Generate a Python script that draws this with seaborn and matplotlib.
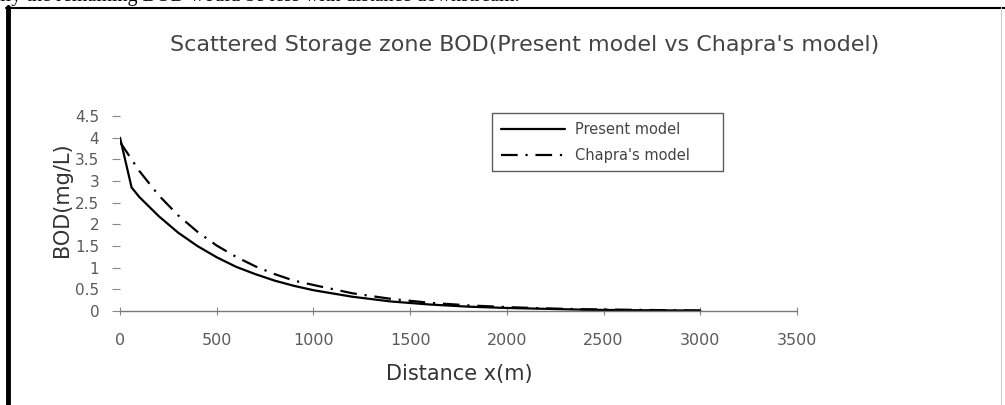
import matplotlib
matplotlib.use("Agg")
import matplotlib.pyplot as plt
from matplotlib.lines import Line2D
import seaborn as sns
import pandas as pd

title = "Scattered Storage zone BOD(Present model vs Chapra's model)"
x_label = "Distance x(m)"
y_label = "BOD(mg/L)"
series_names = ["Present model", "Chapra's model"]
page_text = "lly the remaining BOD would be less with distance downstream."

present_x = [0, 60, 100, 200, 300, 400, 500, 600, 700, 800, 900, 1000, 1200, 1400,
             1600, 1800, 2000, 2200, 2400, 2600, 2800, 3000]
present_y = [4.0, 2.85, 2.63, 2.19, 1.81, 1.50, 1.24, 1.02, 0.85, 0.70, 0.58, 0.48,
             0.33, 0.22, 0.15, 0.10, 0.07, 0.05, 0.03, 0.02, 0.015, 0.01]

chapra_x = [0, 100, 200, 300, 400, 500, 600, 700, 800, 900, 1000, 1200, 1400, 1600,
            1800, 2000, 2200, 2400, 2600, 2800, 3000]
chapra_y = [3.90, 3.23, 2.67, 2.21, 1.83, 1.51, 1.25, 1.03, 0.85, 0.70, 0.60, 0.41,
            0.28, 0.19, 0.13, 0.09, 0.06, 0.04, 0.03, 0.02, 0.01]

x_ticks = [0, 500, 1000, 1500, 2000, 2500, 3000, 3500]
y_ticks = [0, 0.5, 1, 1.5, 2, 2.5, 3, 3.5, 4, 4.5]
y_tick_labels = ["0", "0.5", "1", "1.5", "2", "2.5", "3", "3.5", "4", "4.5"]

df = pd.concat([
    pd.DataFrame({"x": present_x, "y": present_y, "model": series_names[0]}),
    pd.DataFrame({"x": chapra_x, "y": chapra_y, "model": series_names[1]}),
])

sns.set_theme(style="white")
plt.rcParams["font.family"] = ["DejaVu Sans"]

W, H = 1005, 405
fig = plt.figure(figsize=(W / 100, H / 100), dpi=100)
ax = fig.add_axes([120 / W, 1 - 311 / H, (797 - 120) / W, (311 - 116) / H])

sns.lineplot(data=df, x="x", y="y", hue="model", style="model",
             palette=["black", "black"],
             dashes={series_names[0]: "", series_names[1]: (7.5, 3.5, 1, 3.5)},
             linewidth=1.6, ax=ax, legend=True, sort=False)

ax.set_xlim(0, 3500)
ax.set_ylim(0, 4.5)
ax.set_xticks(x_ticks)
ax.set_xticklabels([str(t) for t in x_ticks])
ax.set_yticks(y_ticks)
ax.set_yticklabels(y_tick_labels)

grey = "#5a5a5a"
for s in ["top", "right", "left"]:
    ax.spines[s].set_visible(False)
ax.spines["bottom"].set_color("#777777")
ax.spines["bottom"].set_linewidth(1.0)
ax.tick_params(axis="x", direction="inout", length=6, width=0.8, color="#888888",
               labelsize=11.5, labelcolor=grey, pad=13, bottom=True)
ax.tick_params(axis="y", direction="out", length=6, width=0.8, color="#888888",
               labelsize=11, labelcolor=grey, pad=9, left=True)

ax.set_xlabel(x_label, fontsize=15, color="#333333")
ax.xaxis.set_label_coords((459 - 120) / (797 - 120), -(374 - 311) / (311 - 116))
ax.set_ylabel(y_label, fontsize=15, color="#333333")
ax.yaxis.set_label_coords((62 - 120) / (797 - 120), (311 - 200) / (311 - 116))
ax.yaxis.label.set_va("center")
ax.xaxis.label.set_va("center")

fig.text(525 / W, 1 - 45 / H, title, ha="center", va="center",
         fontsize=16, color="#444444")

leg = ax.legend(handles=ax.get_legend().legend_handles, labels=series_names,
                loc="upper left",
                bbox_to_anchor=((492 - 120) / 677, (311 - 172) / 195,
                                (723 - 492) / 677, (172 - 113) / 195),
                mode="expand", frameon=True,
                fancybox=False, edgecolor="#333333", fontsize=10.5,
                handlelength=4.4, handletextpad=0.7, borderpad=0.6,
                labelspacing=0.75, borderaxespad=0)
leg.get_frame().set_linewidth(1.0)
for t in leg.get_texts():
    t.set_color("#444444")

# page elements around the figure
fig.add_artist(Line2D([8 / W, 8 / W], [0, 1 - 7 / H], color="black",
                      linewidth=3.5, transform=fig.transFigure))
fig.add_artist(Line2D([6 / W, 1.0], [1 - 7.5 / H, 1 - 7.5 / H], color="black",
                      linewidth=1.5, transform=fig.transFigure))
fig.add_artist(Line2D([1001 / W, 1001 / W], [0, 1 - 7 / H], color="#cccccc",
                      linewidth=0.8, transform=fig.transFigure))
fig.text(0.0, 1 - 1.5 / H, page_text,
         ha="left", va="baseline", fontsize=14.5, family=["Liberation Serif", "DejaVu Serif"],
         color="black")

fig.savefig("out.png", dpi=100)
